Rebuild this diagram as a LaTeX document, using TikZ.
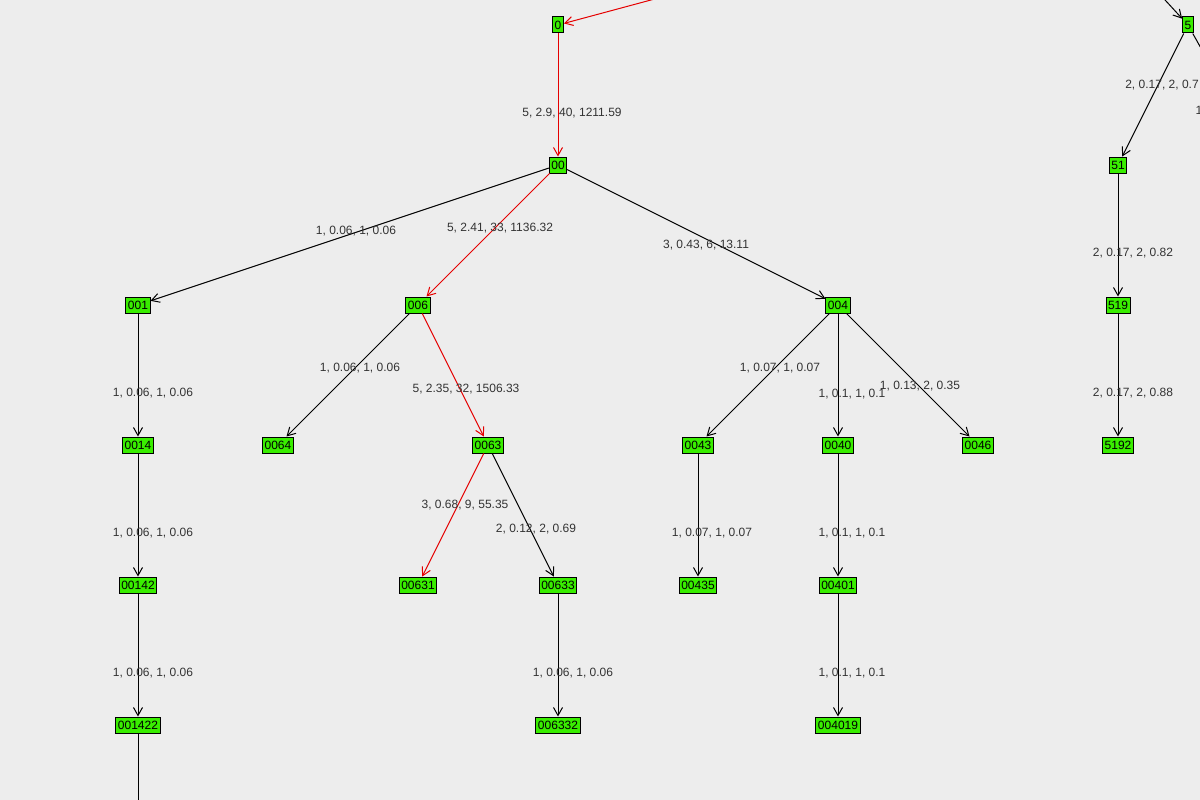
\documentclass[tikz,border=0pt]{standalone}
\usepackage{fontspec}
\setmainfont{Liberation Sans}
\usepackage{tikz}
\usetikzlibrary{arrows.meta}
\begin{document}
\begin{tikzpicture}
  [x=1pt,y=-1pt,line width=1pt,
   vertex/.style={rectangle,draw=black,fill=green!90!black!70!lime,font=\fontsize{12}{13}\selectfont,
                  inner xsep=2pt,inner ysep=1pt,minimum height=16pt,minimum width=9pt},
   weight/.style={font=\fontsize{12}{13}\selectfont,text=black!80,inner sep=1pt},
   link/.style={-{Straight Barb[length=8pt,width=9pt]},black},
   hotlink/.style={-{Straight Barb[length=8pt,width=9pt]},red!90!black}]
  \fill[black!7] (0,0) rectangle (1200,800);
  \useasboundingbox (0,0) rectangle (1200,800);
  \clip (0,0) rectangle (1200,800);
  \node[vertex] (n0) at (558,25) {0};
  \node[vertex] (n5) at (1188,25) {5};
  \node[vertex] (n00) at (558,165) {00};
  \node[vertex] (n51) at (1118,165) {51};
  \node[vertex] (n001) at (138,305) {001};
  \node[vertex] (n006) at (418,305) {006};
  \node[vertex] (n004) at (838,305) {004};
  \node[vertex] (n519) at (1118,305) {519};
  \node[vertex] (n0014) at (138,445) {0014};
  \node[vertex] (n0064) at (278,445) {0064};
  \node[vertex] (n0063) at (488,445) {0063};
  \node[vertex] (n0043) at (698,445) {0043};
  \node[vertex] (n0040) at (838,445) {0040};
  \node[vertex] (n0046) at (978,445) {0046};
  \node[vertex] (n5192) at (1118,445) {5192};
  \node[vertex] (n00142) at (138,585) {00142};
  \node[vertex] (n00631) at (418,585) {00631};
  \node[vertex] (n00633) at (558,585) {00633};
  \node[vertex] (n00435) at (698,585) {00435};
  \node[vertex] (n00401) at (838,585) {00401};
  \node[vertex] (n001422) at (138,725) {001422};
  \node[vertex] (n006332) at (558,725) {006332};
  \node[vertex] (n004019) at (838,725) {004019};
  \coordinate (root) at (755,-28);
  \coordinate (root5) at (1110,-60);
  \coordinate (off5) at (1230,100);
  \coordinate (offbottom) at (138,820);
  \draw[hotlink] (root) to (n0);
  \draw[link] (root5) to (n5);
  \draw[black] (n5) to (off5);
  \draw[hotlink] (n0) to (n00);
  \draw[link] (n00) to (n001);
  \draw[hotlink] (n00) to (n006);
  \draw[link] (n00) to (n004);
  \draw[link] (n001) to (n0014);
  \draw[link] (n0014) to (n00142);
  \draw[link] (n00142) to (n001422);
  \draw[black] (n001422) to (offbottom);
  \draw[link] (n006) to (n0064);
  \draw[hotlink] (n006) to (n0063);
  \draw[hotlink] (n0063) to (n00631);
  \draw[link] (n0063) to (n00633);
  \draw[link] (n00633) to (n006332);
  \draw[link] (n004) to (n0043);
  \draw[link] (n004) to (n0040);
  \draw[link] (n004) to (n0046);
  \draw[link] (n0043) to (n00435);
  \draw[link] (n0040) to (n00401);
  \draw[link] (n00401) to (n004019);
  \draw[link] (n5) to (n51);
  \draw[link] (n51) to (n519);
  \draw[link] (n519) to (n5192);
  \node[weight] (w000) at (572,113) {5, 2.9, 40, 1211.59};
  \node[weight] (w001) at (356,231) {1, 0.06, 1, 0.06};
  \node[weight] (w006) at (500,228) {5, 2.41, 33, 1136.32};
  \node[weight] (w004) at (706,245) {3, 0.43, 6, 13.11};
  \node[weight] (w0014) at (153,393) {1, 0.06, 1, 0.06};
  \node[weight] (w0064) at (360,368) {1, 0.06, 1, 0.06};
  \node[weight] (w0063) at (466,389) {5, 2.35, 32, 1506.33};
  \node[weight] (w0043) at (780,368) {1, 0.07, 1, 0.07};
  \node[weight] (w0040) at (852,394) {1, 0.1, 1, 0.1};
  \node[weight] (w0046) at (920,386) {1, 0.13, 2, 0.35};
  \node[weight] (w51) at (1162,85) {2, 0.17, 2, 0.7};
  \node[weight] (wother) at (1199,110) {1};
  \node[weight] (w519) at (1133,253) {2, 0.17, 2, 0.82};
  \node[weight] (w5192) at (1133,393) {2, 0.17, 2, 0.88};
  \node[weight] (w00142) at (153,533) {1, 0.06, 1, 0.06};
  \node[weight] (w00631) at (465,505) {3, 0.68, 9, 55.35};
  \node[weight] (w00633) at (536,529) {2, 0.12, 2, 0.69};
  \node[weight] (w00435) at (712,533) {1, 0.07, 1, 0.07};
  \node[weight] (w00401) at (852,533) {1, 0.1, 1, 0.1};
  \node[weight] (w001422) at (153,673) {1, 0.06, 1, 0.06};
  \node[weight] (w006332) at (573,673) {1, 0.06, 1, 0.06};
  \node[weight] (w004019) at (852,673) {1, 0.1, 1, 0.1};
\end{tikzpicture}
\end{document}
